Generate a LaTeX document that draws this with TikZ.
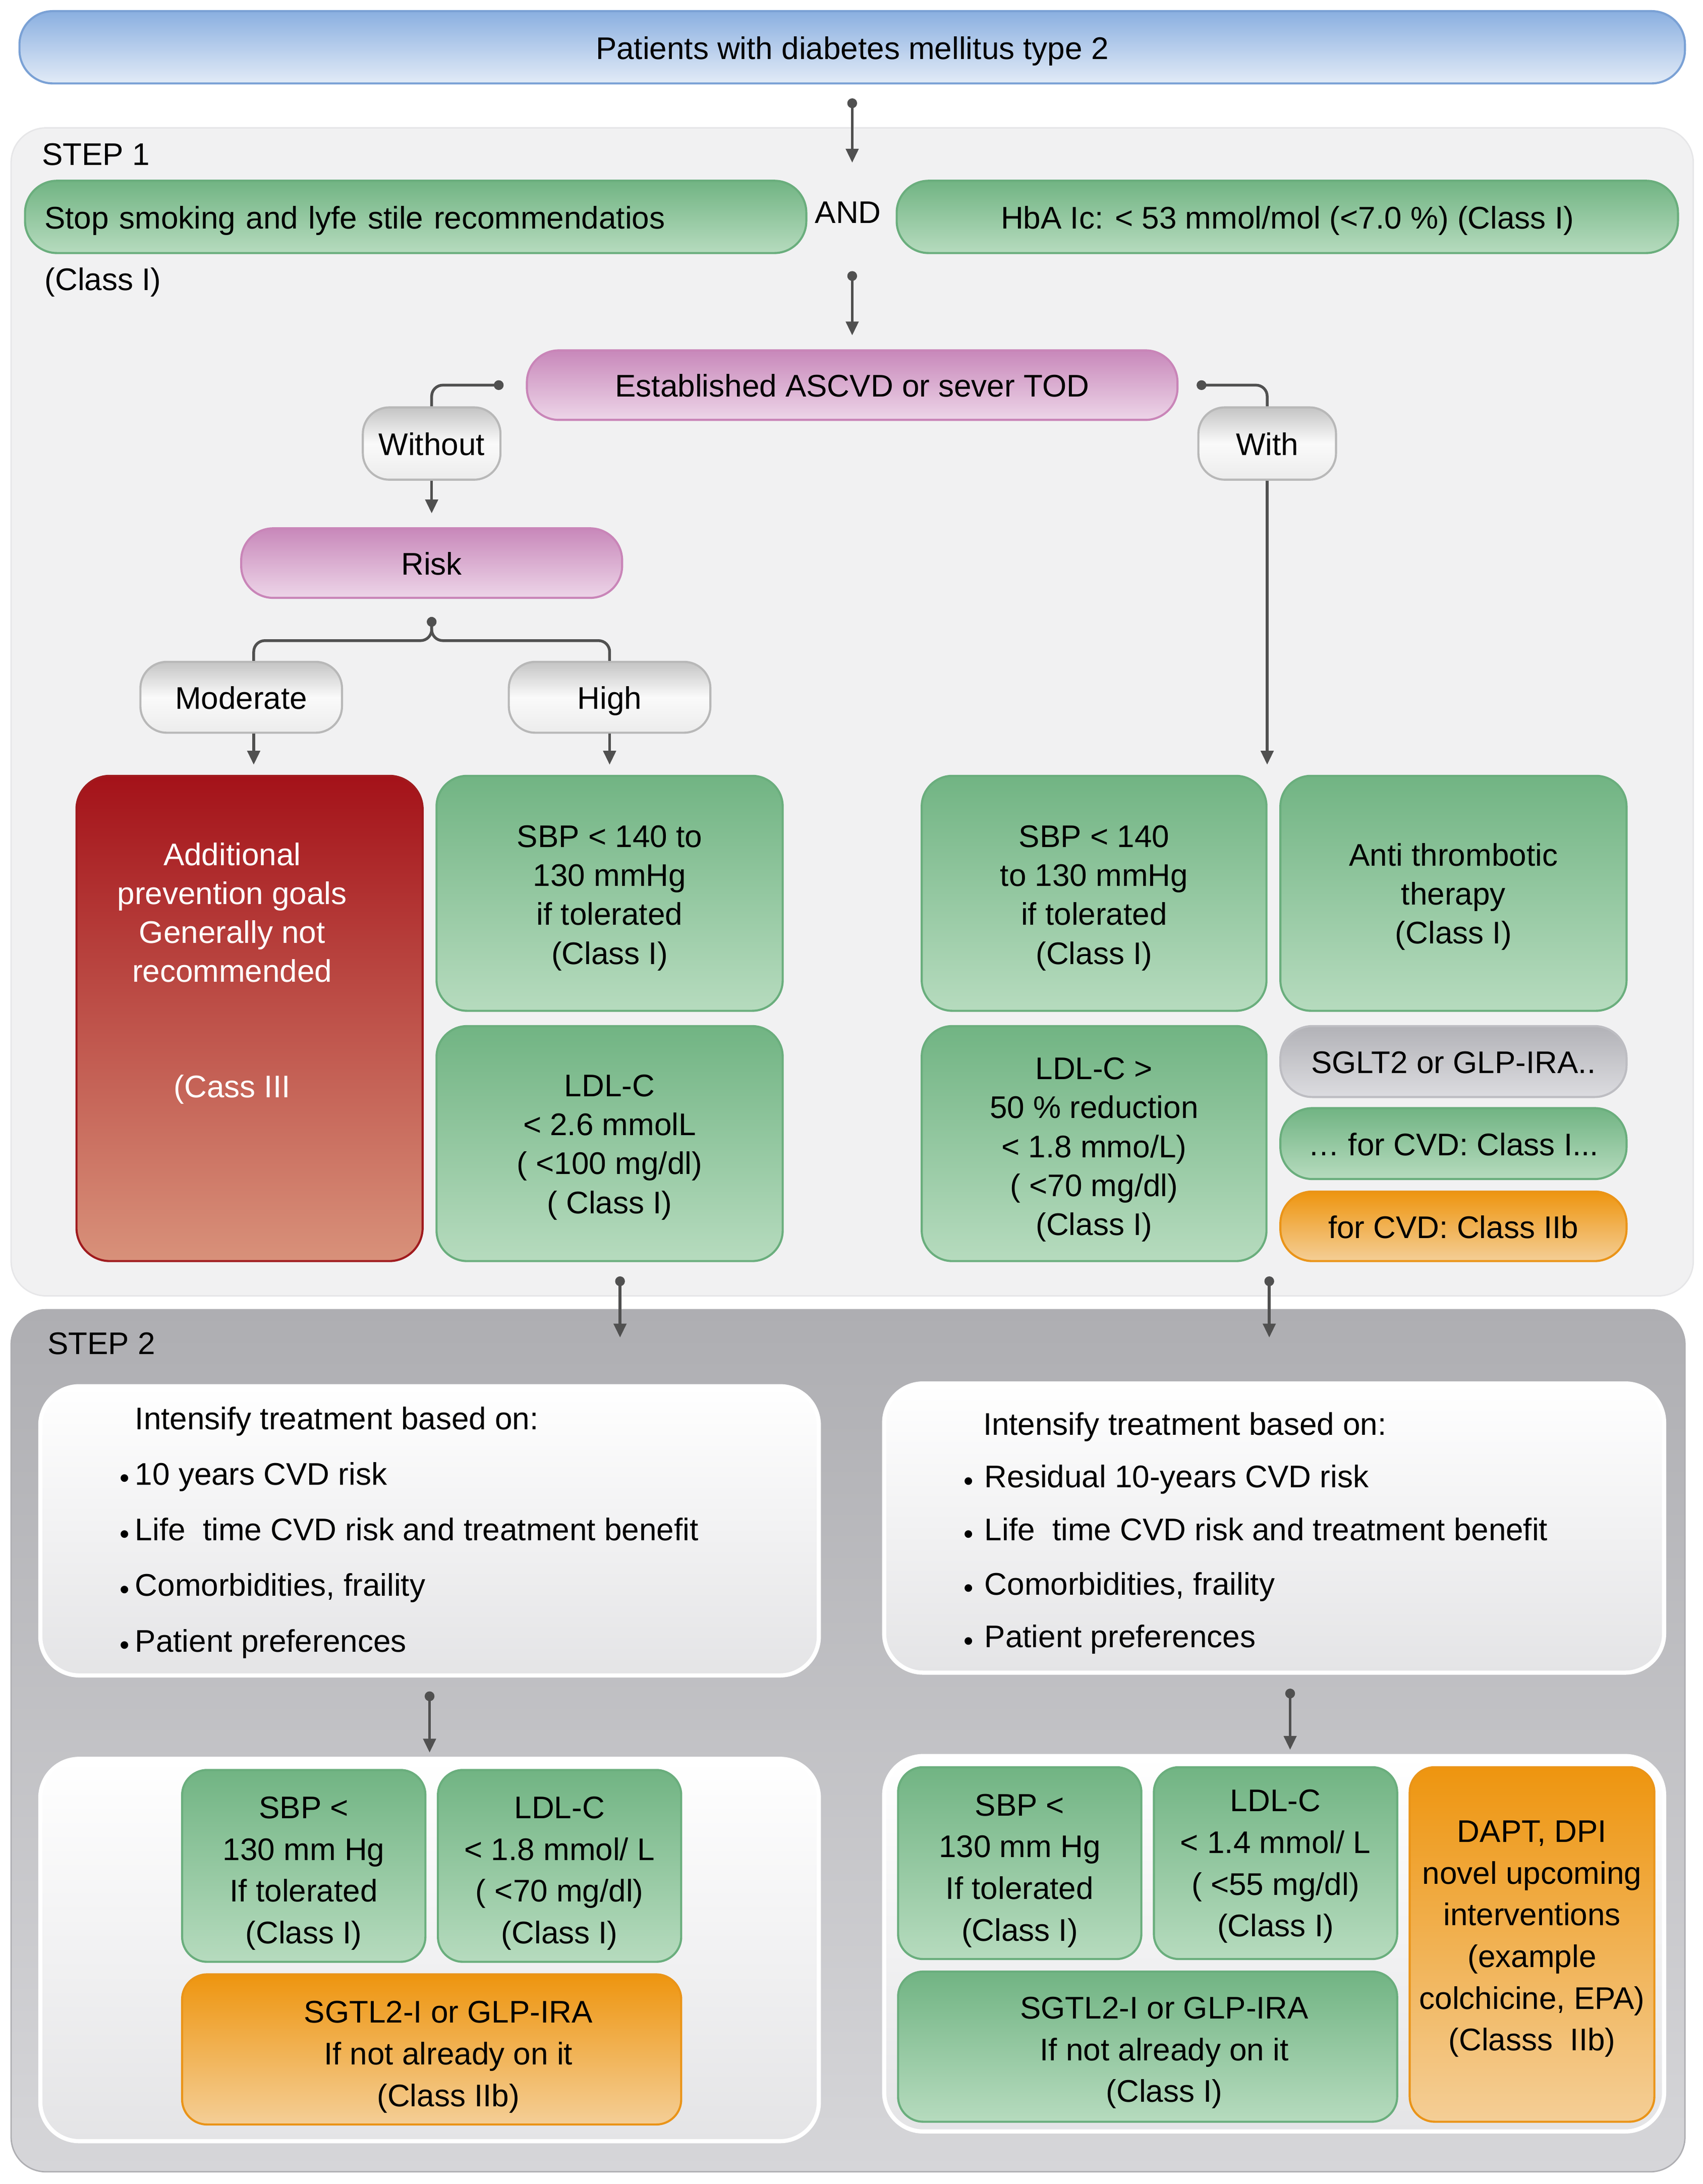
\documentclass[tikz,border=0pt]{standalone}
\usepackage{fontspec}
\setmainfont{Liberation Sans}
\usetikzlibrary{arrows.meta}
\definecolor{grnT}{HTML}{71B483}
\definecolor{grnB}{HTML}{B6DBBE}
\definecolor{grnD}{HTML}{6AAE7D}
\definecolor{redT}{HTML}{A41219}
\definecolor{redB}{HTML}{D8917A}
\definecolor{redD}{HTML}{A01A1E}
\definecolor{pinkT}{HTML}{C888BA}
\definecolor{pinkB}{HTML}{EDD5E8}
\definecolor{pinkD}{HTML}{C985B8}
\definecolor{bluT}{HTML}{8AAFE0}
\definecolor{bluB}{HTML}{E2EBF7}
\definecolor{bluD}{HTML}{7AA1D5}
\definecolor{orgT}{HTML}{EE950F}
\definecolor{orgB}{HTML}{F4CE96}
\definecolor{orgD}{HTML}{EA9418}
\definecolor{gryT}{HTML}{B2B2B7}
\definecolor{gryB}{HTML}{DCDCE0}
\definecolor{gryD}{HTML}{BDBDC2}
\definecolor{pillT}{HTML}{C4C4C4}
\definecolor{pillM}{HTML}{FAFAFA}
\definecolor{pillB}{HTML}{ECECEC}
\definecolor{pillD}{HTML}{B8B8B8}
\definecolor{pan1}{HTML}{F1F1F2}
\definecolor{pan1D}{HTML}{E6E6E8}
\definecolor{pan2T}{HTML}{AEAEB2}
\definecolor{pan2B}{HTML}{D6D6D9}
\definecolor{wbB}{HTML}{E4E4E6}
\definecolor{conc}{HTML}{505050}
\newcommand\mybul[1]{\llap{\raisebox{-2pt}{\fontsize{20}{20}\selectfont\textbullet}\hspace{#1}}}
\newcommand\tp[1]{\rule{0pt}{#1pt}}
\newcommand\rs{\hspace*{24pt}}
\begin{document}
\begin{tikzpicture}[x=1pt,y=-1pt,
  fnt/.style={font=\fontsize{22.5}{28}\selectfont},
  fntb/.style={font=\fontsize{22.5}{30}\selectfont},
  wh/.style 2 args={minimum width=#1pt, minimum height=#2pt},
  upb/.style={execute at end node=\rule[-#1pt]{0pt}{0pt}},
  base/.style={rectangle, inner sep=0pt, align=center, fnt, line width=1.5pt},
  onel/.style={text height=18.5pt, text depth=1.5pt},
  gbox/.style={base, draw=grnD, top color=grnT, bottom color=grnB, rounded corners=22pt},
  gboxs/.style={base, fntb, draw=grnD, top color=grnT, bottom color=grnB, rounded corners=18pt},
  obox/.style={base, fntb, draw=orgD, top color=orgT, bottom color=orgB, rounded corners=18pt},
  rbox/.style={base, draw=redD, top color=redT, bottom color=redB, rounded corners=24pt},
  gpill/.style={base, onel, draw=grnD, top color=grnT, bottom color=grnB, rounded corners=23pt},
  opill/.style={base, onel, draw=orgD, top color=orgT, bottom color=orgB, rounded corners=23pt},
  ypill/.style={base, onel, draw=gryD, top color=gryT, bottom color=gryB, rounded corners=23pt},
  ppill/.style={base, onel, draw=pinkD, top color=pinkT, bottom color=pinkB, rounded corners=23pt},
  bpill/.style={base, onel, draw=bluD, top color=bluT, bottom color=bluB, rounded corners=24pt},
  wpill/.style={base, onel, draw=pillD, top color=pillT, bottom color=pillB, middle color=pillM, rounded corners=19pt},
  panelA/.style={rectangle, fill=pan1, draw=pan1D, line width=1pt, rounded corners=25pt},
  panelB/.style={rectangle, top color=pan2T, bottom color=pan2B, draw=pan2T, line width=1pt, rounded corners=25pt},
  wbox/.style={rectangle, top color=white, bottom color=wbB, draw=white, line width=3pt, rounded corners=28pt},
  lbl/.style={fnt, inner sep=0pt, anchor=base west},
  conn/.style={draw=conc, line width=2pt},
  arr/.style={conn, {Circle[length=7pt]}-{Triangle[length=10pt,width=9pt]}},
  arrn/.style={conn, -{Triangle[length=10pt,width=9pt]}},
  dotl/.style={conn, {Circle[length=7pt]}-},
]
\useasboundingbox (0,0) rectangle (1225,1570.8);

% panels
\node[panelA, wh={1210}{840}] (p1) at (613,512) {};
\node[panelB, wh={1204}{620}] (p2) at (610,1252) {};
\node[lbl] (s1) at (30,119) {STEP 1};
\node[lbl] (s2) at (34,974) {STEP 2};

% top
\node[bpill, wh={1198}{52}] (top) at (613,34) {Patients with diabetes mellitus type 2};

% step 1 row
\node[gpill, wh={562}{52}, text width=534pt, inner xsep=14pt, align=left] (smoke) at (299,156) {Stop smoking and lyfe stile recommendatios};
\node[lbl] (cl1) at (32,209) {(Class I)};
\node[fnt, inner sep=0pt] (and) at (610,153) {AND};
\node[gpill, wh={562}{52}] (hba) at (926,156) {HbA Ic: < 53 mmol/mol (<7.0 \%) (Class I)};

\node[ppill, wh={468}{50}] (ascvd) at (613,277) {Established ASCVD or sever TOD};
\node[wpill, wh={99}{52}] (without) at (310.5,319) {Without};
\node[wpill, wh={99}{52}] (with) at (911.5,319) {With};
\node[ppill, wh={274}{50}] (risk) at (310.5,405) {Risk};
\node[wpill, wh={145}{51}] (moderate) at (173.5,501.5) {Moderate};
\node[wpill, wh={145}{51}] (high) at (438.5,501.5) {High};

% step 1 boxes
\node[rbox, wh={249}{349}] (red) at (179.5,732.5) {};
\node[fnt, inner sep=0pt, align=center, text=white] (redt) at (167,700) {Additional\\prevention goals\\Generally not\\recommended\\[55pt](Cass III};
\node[gbox, wh={249}{169}] (ba) at (438.5,642.5) {\tp{22.5}SBP < 140 to\\130 mmHg\\if tolerated\\(Class I)};
\node[gbox, wh={249}{169}] (bb) at (438.5,822.5) {\tp{21}LDL-C\\< 2.6 mmolL\\( <100 mg/dl)\\( Class I)};
\node[gbox, wh={248}{169}] (bc) at (787,642.5) {\tp{22.5}SBP < 140\\to 130 mmHg\\if tolerated\\(Class I)};
\node[gbox, wh={249}{169}] (bd) at (1045.5,642.5) {\tp{21}Anti thrombotic\\therapy\\(Class I)};
\node[gbox, wh={248}{169}] (be) at (787,822.5) {\tp{24.5}LDL-C >\\50 \% reduction\\< 1.8 mmo/L)\\( <70 mg/dl)\\(Class I)};
\node[ypill, wh={249}{51}] (bf) at (1045.5,763.5) {SGLT2 or GLP-IRA..};
\node[gpill, wh={249}{51}] (bg) at (1045.5,822.5) {\dots{} for CVD: Class I...};
\node[opill, wh={249}{50}] (bh) at (1045.5,882) {for CVD: Class IIb};

% step 2 info boxes
\node[wbox, wh={560}{208}] (info1) at (309,1101) {};
\node[wbox, wh={561}{208}] (info2) at (916.5,1099) {};
\node[lbl] (i1h) at (97,1028) {Intensify treatment based on:};
\node[lbl] (i1a) at (97,1068) {\mybul{4pt}10 years CVD risk};
\node[lbl] (i1b) at (97,1108) {\mybul{4pt}Life\ \ time CVD risk and treatment benefit};
\node[lbl] (i1c) at (97,1148) {\mybul{4pt}Comorbidities, fraility};
\node[lbl] (i1d) at (97,1188) {\mybul{4pt}Patient preferences};
\node[lbl] (i2h) at (707,1032) {Intensify treatment based on:};
\node[lbl] (i2a) at (708,1070) {\mybul{8pt}Residual 10-years CVD risk};
\node[lbl] (i2b) at (708,1108) {\mybul{8pt}Life\ \ time CVD risk and treatment benefit};
\node[lbl] (i2c) at (708,1147) {\mybul{8pt}Comorbidities, fraility};
\node[lbl] (i2d) at (708,1185) {\mybul{8pt}Patient preferences};

% step 2 bottom panels
\node[wbox, wh={560}{275}] (bot1) at (309,1402.5) {};
\node[wbox, wh={561}{270}] (bot2) at (916.5,1398) {};
\node[gboxs, wh={175}{138}] (l1) at (218.5,1342) {\tp{26.5}SBP <\\130 mm Hg\\If tolerated\\(Class I)};
\node[gboxs, wh={175}{138}] (l2) at (402.5,1342) {\tp{26.5}LDL-C\\< 1.8 mmol/ L\\( <70 mg/dl)\\(Class I)};
\node[obox, wh={359}{108}] (l3) at (310.5,1474) {\tp{26.5}\rs SGTL2-I or GLP-IRA\\\rs If not already on it\\\rs (Class IIb)};
\node[gboxs, wh={175}{138}] (r1) at (733.5,1340) {\tp{26.5}SBP <\\130 mm Hg\\If tolerated\\(Class I)};
\node[gboxs, wh={175}{138}] (r2) at (917.5,1340) {\tp{20.5}LDL-C\\< 1.4 mmol/ L\\( <55 mg/dl)\\(Class I)};
\node[gboxs, wh={359}{108}] (r3) at (825.5,1472) {\tp{24.5}\rs SGTL2-I or GLP-IRA\\\rs If not already on it\\\rs (Class I)};
\node[obox, upb=12.7, wh={176}{255}] (r4) at (1102,1398.5) {DAPT, DPI\\novel upcoming\\interventions\\(example\\colchicine, EPA)\\(Classs\ \ IIb)};

% connector end points
\coordinate (c1e) at (613,117);
\coordinate (c2s) at (613,195);
\coordinate (modEnd) at (182.5,550);
\coordinate (highEnd) at (438.5,550);
\coordinate (withEnd) at (911.5,550);
\coordinate (s1a) at (446,918);
\coordinate (s1aEnd) at (446,962);
\coordinate (s1b) at (913,918);
\coordinate (s1bEnd) at (913,962);

% connectors
\draw[arr] ([yshift=-10pt]top.south) -- (c1e);
\draw[arr] (c2s) -- ([yshift=10pt]ascvd.north);
\draw[dotl, rounded corners=8pt] ([xshift=-16pt]ascvd.west) -| (without.north);
\draw[dotl, rounded corners=8pt] ([xshift=13pt]ascvd.east) -| (with.north);
\draw[arrn] (without.south) -- ([yshift=10pt]risk.north);
\draw[dotl, rounded corners=8pt] ([yshift=-13pt]risk.south) -- ++(0,17) -| ([xshift=9pt]moderate.north);
\draw[conn, rounded corners=8pt] ([yshift=-13pt]risk.south) -- ++(0,17) -| (high.north);
\draw[arrn] ([xshift=9pt]moderate.south) -- (modEnd);
\draw[arrn] (high.south) -- (highEnd);
\draw[arrn] (with.south) -- (withEnd);
\draw[arr] (s1a) -- (s1aEnd);
\draw[arr] (s1b) -- (s1bEnd);
\draw[arr] ([yshift=-10pt]info1.south) -- ([yshift=3pt]bot1.north);
\draw[arr] ([xshift=11.5pt,yshift=-10pt]info2.south) -- ([xshift=11.5pt,yshift=3pt]bot2.north);
\end{tikzpicture}
\end{document}
